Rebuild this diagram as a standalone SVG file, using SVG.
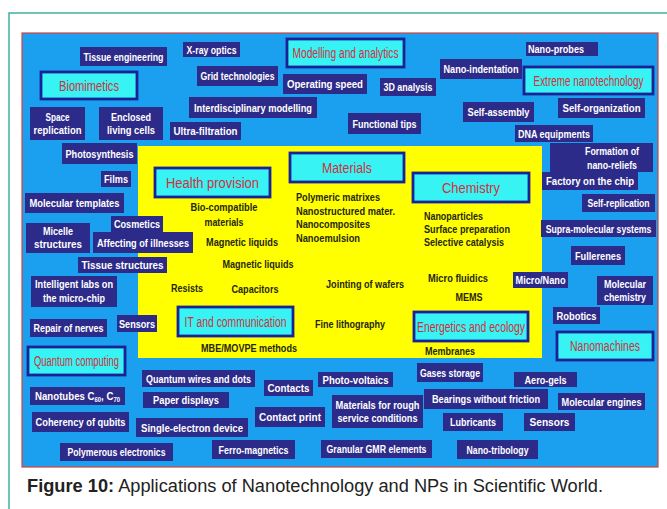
<svg xmlns="http://www.w3.org/2000/svg" width="667" height="509" viewBox="0 0 667 509">
<style>
text{font-family:"Liberation Sans",Arial,sans-serif}
.n rect{fill:#2d2b8a}
.n text{fill:#fff;font-weight:bold;font-size:11.5px;text-anchor:middle}
.c rect{fill:#38f3f3;stroke:#1b2196;stroke-width:2.8}
.c text{fill:#d22f3c;font-size:14px;text-anchor:middle}
.y text{fill:#262610;font-weight:bold;font-size:10.5px}
.m{text-anchor:middle}
</style>
<rect x="0" y="0" width="667" height="509" fill="#fff"/>
<path d="M9 509V13H667" fill="none" stroke="#3eb1a1" stroke-width="1.5"/>
<rect id="panel" x="22" y="33" width="636" height="434" fill="#1aa0ee" stroke="#d84040" stroke-width="1.2"/>
<rect id="core" x="138" y="146" width="404" height="212" fill="#ffff00"/>

<g class="y" id="labels">
<text class="m" x="224" y="211" textLength="67" lengthAdjust="spacingAndGlyphs">Bio-compatible</text>
<text class="m" x="224" y="226" textLength="39" lengthAdjust="spacingAndGlyphs">materials</text>
<text class="m" x="242" y="246" textLength="72" lengthAdjust="spacingAndGlyphs">Magnetic liquids</text>
<text x="296" y="201" textLength="84" lengthAdjust="spacingAndGlyphs">Polymeric matrixes</text>
<text x="296" y="215" textLength="99" lengthAdjust="spacingAndGlyphs">Nanostructured mater.</text>
<text x="296" y="228" textLength="74" lengthAdjust="spacingAndGlyphs">Nanocomposites</text>
<text x="296" y="242" textLength="64" lengthAdjust="spacingAndGlyphs">Nanoemulsion</text>
<text class="m" x="258" y="268" textLength="71" lengthAdjust="spacingAndGlyphs">Magnetic liquids</text>
<text class="m" x="187" y="292" textLength="32" lengthAdjust="spacingAndGlyphs">Resists</text>
<text class="m" x="255" y="293" textLength="47" lengthAdjust="spacingAndGlyphs">Capacitors</text>
<text class="m" x="365" y="288" textLength="78" lengthAdjust="spacingAndGlyphs">Jointing of wafers</text>
<text class="m" x="350" y="328" textLength="70" lengthAdjust="spacingAndGlyphs">Fine lithography</text>
<text class="m" x="249" y="352" textLength="96" lengthAdjust="spacingAndGlyphs">MBE/MOVPE methods</text>
<text x="424" y="220" textLength="59" lengthAdjust="spacingAndGlyphs">Nanoparticles</text>
<text x="424" y="233" textLength="86" lengthAdjust="spacingAndGlyphs">Surface preparation</text>
<text x="424" y="246" textLength="80" lengthAdjust="spacingAndGlyphs">Selective catalysis</text>
<text class="m" x="458" y="282" textLength="60" lengthAdjust="spacingAndGlyphs">Micro fluidics</text>
<text class="m" x="469" y="301" textLength="27" lengthAdjust="spacingAndGlyphs">MEMS</text>
<text class="m" x="450" y="355" textLength="50" lengthAdjust="spacingAndGlyphs">Membranes</text>
</g>

<g id="modelling" class="c"><rect x="287" y="39" width="117" height="28"/><text x="345.5" y="58" textLength="106" lengthAdjust="spacingAndGlyphs">Modelling and analytics</text></g>
<g id="biomimetics" class="c"><rect x="41" y="72" width="96" height="27"/><text x="89" y="90.5" textLength="60" lengthAdjust="spacingAndGlyphs">Biomimetics</text></g>
<g id="extreme" class="c"><rect x="524" y="67" width="129" height="27"/><text transform="translate(588.5 85.5) scale(0.78 1)" x="0" y="0" textLength="141" lengthAdjust="spacingAndGlyphs">Extreme nanotechnology</text></g>
<g id="health" class="c"><rect x="155" y="168" width="115" height="29"/><text x="212.5" y="187.5" textLength="93" lengthAdjust="spacingAndGlyphs">Health provision</text></g>
<g id="materials" class="c"><rect x="290" y="153" width="114" height="29"/><text x="347" y="172.5" textLength="50" lengthAdjust="spacingAndGlyphs">Materials</text></g>
<g id="chemistry" class="c"><rect x="413" y="173" width="116" height="29"/><text x="471" y="192.5" textLength="58" lengthAdjust="spacingAndGlyphs">Chemistry</text></g>
<g id="it" class="c"><rect x="178" y="307" width="115" height="29"/><text x="235.5" y="326.5" textLength="102" lengthAdjust="spacingAndGlyphs">IT and communication</text></g>
<g id="energetics" class="c"><rect x="414" y="312" width="114" height="29"/><text x="471" y="331.5" textLength="108" lengthAdjust="spacingAndGlyphs">Energetics and ecology</text></g>
<g id="nanomachines" class="c"><rect x="557" y="332" width="96" height="28"/><text x="605" y="351" textLength="70" lengthAdjust="spacingAndGlyphs">Nanomachines</text></g>
<g id="quantum-computing" class="c"><rect x="28" y="347" width="97" height="28"/><text x="76.5" y="366" textLength="85" lengthAdjust="spacingAndGlyphs">Quantum computing</text></g>

<g id="tissue-engineering" class="n"><rect x="80" y="47" width="87" height="19"/><text x="123.5" y="60.5" textLength="80" lengthAdjust="spacingAndGlyphs">Tissue engineering</text></g>
<g id="xray-optics" class="n"><rect x="183" y="42" width="57" height="15"/><text x="211.5" y="53.5" textLength="50" lengthAdjust="spacingAndGlyphs">X-ray optics</text></g>
<g id="grid-technologies" class="n"><rect x="197" y="66" width="81" height="20"/><text x="237.5" y="80" textLength="74" lengthAdjust="spacingAndGlyphs">Grid technologies</text></g>
<g id="operating-speed" class="n"><rect x="283" y="74" width="84" height="20"/><text x="325" y="88" textLength="76" lengthAdjust="spacingAndGlyphs">Operating speed</text></g>
<g id="interdisciplinary" class="n"><rect x="189" y="97" width="128" height="21"/><text x="253" y="111.5" textLength="118" lengthAdjust="spacingAndGlyphs">Interdisciplinary modelling</text></g>
<g id="space-replication" class="n"><rect x="30" y="107" width="55" height="33"/><text x="57.5" y="120.5" textLength="24" lengthAdjust="spacingAndGlyphs">Space</text><text x="57.5" y="134" textLength="48" lengthAdjust="spacingAndGlyphs">replication</text></g>
<g id="enclosed-cells" class="n"><rect x="99" y="107" width="64" height="33"/><text x="131" y="120.5" textLength="40" lengthAdjust="spacingAndGlyphs">Enclosed</text><text x="131" y="134" textLength="48" lengthAdjust="spacingAndGlyphs">living cells</text></g>
<g id="ultra-filtration" class="n"><rect x="170" y="122" width="71" height="18"/><text x="205.5" y="135" textLength="64" lengthAdjust="spacingAndGlyphs">Ultra-filtration</text></g>
<g id="nano-probes" class="n"><rect x="526" y="42" width="72" height="14"/><text x="556" y="53" textLength="56" lengthAdjust="spacingAndGlyphs">Nano-probes</text></g>
<g id="nano-indentation" class="n"><rect x="440" y="59" width="82" height="20"/><text x="481" y="73" textLength="75" lengthAdjust="spacingAndGlyphs">Nano-indentation</text></g>
<g id="analysis-3d" class="n"><rect x="380" y="78" width="56" height="18"/><text x="408" y="91" textLength="49" lengthAdjust="spacingAndGlyphs">3D analysis</text></g>
<g id="self-assembly" class="n"><rect x="463" y="102" width="71" height="20"/><text x="498.5" y="116" textLength="62" lengthAdjust="spacingAndGlyphs">Self-assembly</text></g>
<g id="self-organization" class="n"><rect x="558" y="98" width="87" height="20"/><text x="601.5" y="112" textLength="78" lengthAdjust="spacingAndGlyphs">Self-organization</text></g>
<g id="functional-tips" class="n"><rect x="348" y="113" width="73" height="21"/><text x="384.5" y="127.5" textLength="64" lengthAdjust="spacingAndGlyphs">Functional tips</text></g>
<g id="dna-equipments" class="n"><rect x="515" y="125" width="78" height="17"/><text x="554" y="137.5" textLength="72" lengthAdjust="spacingAndGlyphs">DNA equipments</text></g>
<g id="photosynthesis" class="n"><rect x="62" y="143" width="75" height="21"/><text x="99.5" y="157.5" textLength="68" lengthAdjust="spacingAndGlyphs">Photosynthesis</text></g>
<g id="films" class="n"><rect x="101" y="171" width="30" height="16"/><text x="116" y="183" textLength="24" lengthAdjust="spacingAndGlyphs">Films</text></g>
<g id="molecular-templates" class="n"><rect x="25" y="193" width="99" height="20"/><text x="74.5" y="207" textLength="90" lengthAdjust="spacingAndGlyphs">Molecular templates</text></g>
<g id="cosmetics" class="n"><rect x="111" y="216" width="52" height="16"/><text x="137" y="228" textLength="46" lengthAdjust="spacingAndGlyphs">Cosmetics</text></g>
<g id="micelle-structures" class="n"><rect x="26" y="223" width="64" height="30"/><text x="58" y="235" textLength="30" lengthAdjust="spacingAndGlyphs">Micelle</text><text x="58" y="248" textLength="48" lengthAdjust="spacingAndGlyphs">structures</text></g>
<g id="affecting-illnesses" class="n"><rect x="93" y="232" width="100" height="21"/><text x="143" y="246.5" textLength="92" lengthAdjust="spacingAndGlyphs">Affecting of illnesses</text></g>
<g id="tissue-structures" class="n"><rect x="78" y="257" width="89" height="16"/><text x="122.5" y="269" textLength="82" lengthAdjust="spacingAndGlyphs">Tissue structures</text></g>
<g id="formation-reliefs" class="n"><rect x="550" y="143" width="103" height="29"/><text x="612" y="154.5" textLength="54" lengthAdjust="spacingAndGlyphs">Formation of</text><text x="612" y="168.5" textLength="50" lengthAdjust="spacingAndGlyphs">nano-reliefs</text></g>
<g id="factory-chip" class="n"><rect x="542" y="172" width="96" height="18"/><text x="590" y="185" textLength="88" lengthAdjust="spacingAndGlyphs">Factory on the chip</text></g>
<g id="self-replication" class="n"><rect x="582" y="194" width="73" height="18"/><text transform="translate(618.5 207) scale(0.75 1)" x="0" y="0" textLength="83" lengthAdjust="spacingAndGlyphs">Self-replication</text></g>
<g id="supra-molecular" class="n"><rect x="541" y="220" width="115" height="17"/><text transform="translate(598.5 232.5) scale(0.75 1)" x="0" y="0" textLength="141" lengthAdjust="spacingAndGlyphs">Supra-molecular systems</text></g>
<g id="fullerenes" class="n"><rect x="571" y="246" width="54" height="19"/><text x="598" y="259.5" textLength="46" lengthAdjust="spacingAndGlyphs">Fullerenes</text></g>
<g id="intelligent-labs" class="n"><rect x="31" y="276" width="86" height="31"/><text x="74" y="288" textLength="78" lengthAdjust="spacingAndGlyphs">Intelligent  labs on</text><text x="74" y="301.5" textLength="62" lengthAdjust="spacingAndGlyphs">the micro-chip</text></g>
<g id="sensors-left" class="n"><rect x="117" y="315" width="40" height="17"/><text x="137" y="327.5" textLength="36" lengthAdjust="spacingAndGlyphs">Sensors</text></g>
<g id="repair-nerves" class="n"><rect x="30" y="319" width="77" height="18"/><text x="68.5" y="332" textLength="70" lengthAdjust="spacingAndGlyphs">Repair of nerves</text></g>
<g id="micro-nano" class="n"><rect x="513" y="272" width="55" height="16"/><text x="540.5" y="284" textLength="50" lengthAdjust="spacingAndGlyphs">Micro/Nano</text></g>
<g id="molecular-chemistry" class="n"><rect x="597" y="276" width="56" height="29"/><text x="625" y="288" textLength="42" lengthAdjust="spacingAndGlyphs">Molecular</text><text x="625" y="301" textLength="42" lengthAdjust="spacingAndGlyphs">chemistry</text></g>
<g id="robotics" class="n"><rect x="553" y="307" width="47" height="17"/><text x="576.5" y="319.5" textLength="40" lengthAdjust="spacingAndGlyphs">Robotics</text></g>
<g id="quantum-wires" class="n"><rect x="142" y="370" width="113" height="17"/><text x="198.5" y="382.5" textLength="105" lengthAdjust="spacingAndGlyphs">Quantum wires and dots</text></g>
<g id="contacts" class="n"><rect x="264" y="380" width="49" height="16"/><text x="288.5" y="392" textLength="42" lengthAdjust="spacingAndGlyphs">Contacts</text></g>
<g id="photo-voltaics" class="n"><rect x="318" y="372" width="75" height="15"/><text x="355.5" y="383.5" textLength="66" lengthAdjust="spacingAndGlyphs">Photo-voltaics</text></g>
<g id="gases-storage" class="n"><rect x="417" y="363" width="66" height="19"/><text x="450" y="376.5" textLength="60" lengthAdjust="spacingAndGlyphs">Gases storage</text></g>
<g id="aero-gels" class="n"><rect x="514" y="372" width="63" height="15"/><text x="545.5" y="383.5" textLength="42" lengthAdjust="spacingAndGlyphs">Aero-gels</text></g>
<g id="nanotubes" class="n"><rect x="30" y="387" width="95" height="18"/><text transform="translate(77.5 399.5) scale(0.84 1)" x="0" y="0">Nanotubes C<tspan font-size="7" dy="2">60</tspan><tspan dy="-2">, C</tspan><tspan font-size="7" dy="2">70</tspan></text></g>
<g id="paper-displays" class="n"><rect x="143" y="392" width="86" height="16"/><text x="186" y="404" textLength="66" lengthAdjust="spacingAndGlyphs">Paper displays</text></g>
<g id="contact-print" class="n"><rect x="255" y="407" width="70" height="20"/><text x="290" y="421" textLength="62" lengthAdjust="spacingAndGlyphs">Contact print</text></g>
<g id="materials-rough" class="n"><rect x="332" y="395" width="91" height="33"/><text x="377.5" y="408.5" textLength="84" lengthAdjust="spacingAndGlyphs">Materials for rough</text><text x="377.5" y="422" textLength="80" lengthAdjust="spacingAndGlyphs">service conditions</text></g>
<g id="bearings" class="n"><rect x="424" y="389" width="124" height="20"/><text x="486" y="403" textLength="108" lengthAdjust="spacingAndGlyphs">Bearings without friction</text></g>
<g id="molecular-engines" class="n"><rect x="558" y="393" width="87" height="17"/><text x="601.5" y="405.5" textLength="80" lengthAdjust="spacingAndGlyphs">Molecular engines</text></g>
<g id="coherency-qubits" class="n"><rect x="32" y="412" width="97" height="20"/><text x="80.5" y="426" textLength="90" lengthAdjust="spacingAndGlyphs">Coherency of qubits</text></g>
<g id="single-electron" class="n"><rect x="136" y="418" width="112" height="19"/><text x="192" y="431.5" textLength="102" lengthAdjust="spacingAndGlyphs">Single-electron device</text></g>
<g id="lubricants" class="n"><rect x="443" y="413" width="60" height="18"/><text x="473" y="426" textLength="46" lengthAdjust="spacingAndGlyphs">Lubricants</text></g>
<g id="sensors-right" class="n"><rect x="524" y="413" width="51" height="18"/><text x="549.5" y="426" textLength="40" lengthAdjust="spacingAndGlyphs">Sensors</text></g>
<g id="polymerous-electronics" class="n"><rect x="60" y="443" width="113" height="18"/><text x="116.5" y="456" textLength="98" lengthAdjust="spacingAndGlyphs">Polymerous electronics</text></g>
<g id="ferro-magnetics" class="n"><rect x="212" y="440" width="83" height="19"/><text x="253.5" y="453.5" textLength="70" lengthAdjust="spacingAndGlyphs">Ferro-magnetics</text></g>
<g id="granular-gmr" class="n"><rect x="321" y="440" width="111" height="18"/><text x="376.5" y="453" textLength="100" lengthAdjust="spacingAndGlyphs">Granular GMR elements</text></g>
<g id="nano-tribology" class="n"><rect x="457" y="440" width="81" height="19"/><text x="497.5" y="453.5" textLength="62" lengthAdjust="spacingAndGlyphs">Nano-tribology</text></g>

<text id="caption" x="27" y="492" font-size="17.5" fill="#222" textLength="576" lengthAdjust="spacingAndGlyphs"><tspan font-weight="bold">Figure 10:</tspan> Applications of Nanotechnology and NPs in Scientific World.</text>
</svg>
